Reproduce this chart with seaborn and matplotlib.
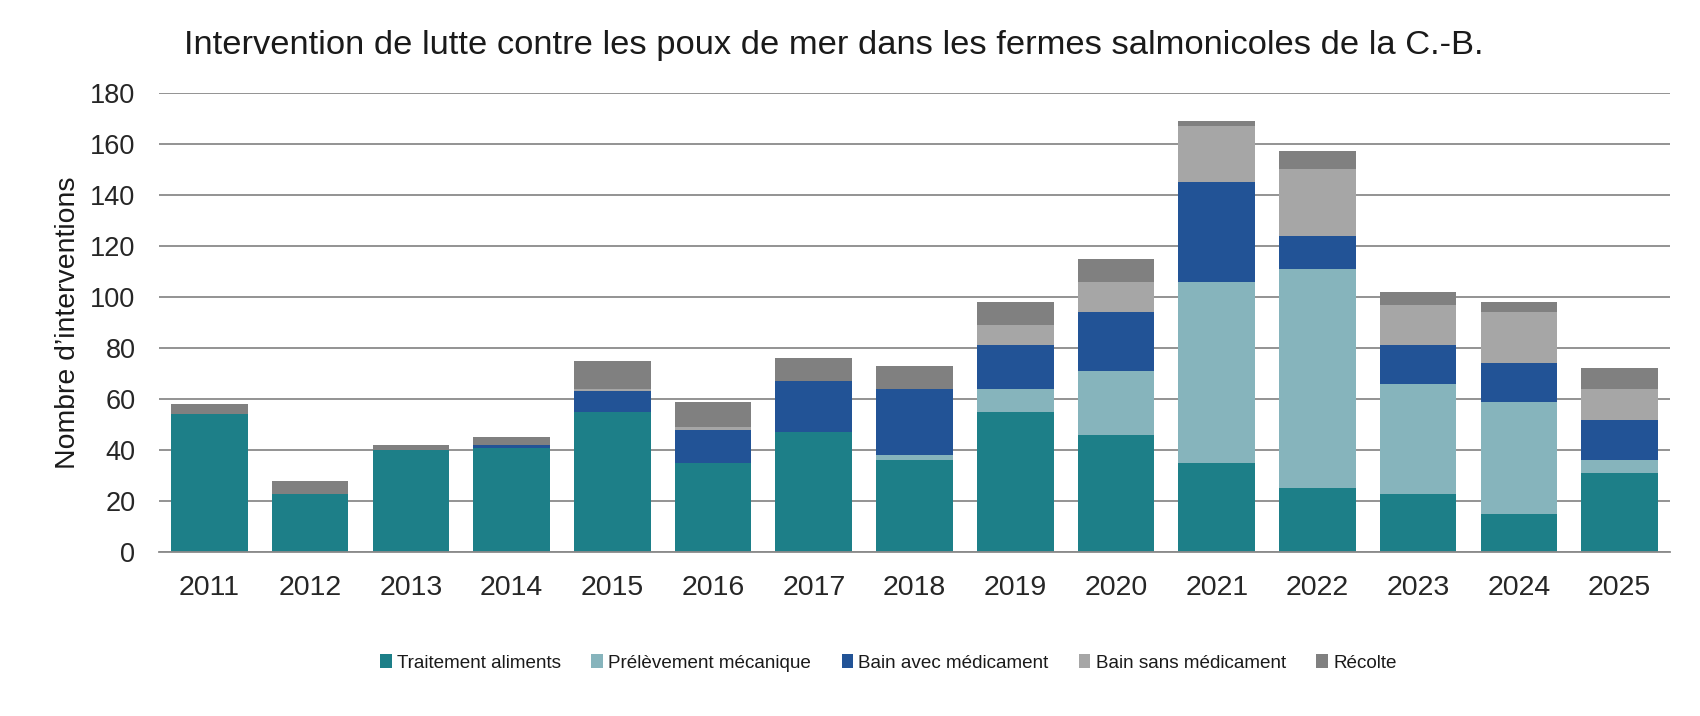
import numpy as np
import pandas as pd
import matplotlib
matplotlib.use("Agg")
import matplotlib.pyplot as plt
from matplotlib.patches import Patch
import seaborn as sns

years = ["2011", "2012", "2013", "2014", "2015", "2016", "2017", "2018",
         "2019", "2020", "2021", "2022", "2023", "2024", "2025"]
traitement = [54, 23, 40, 41, 55, 35, 47, 36, 55, 46, 35, 25, 23, 15, 31]
prelevement = [0, 0, 0, 0, 0, 0, 0, 2, 9, 25, 71, 86, 43, 44, 5]
bain_avec = [0, 0, 0, 1, 8, 13, 20, 26, 17, 23, 39, 13, 15, 15, 16]
bain_sans = [0, 0, 0, 0, 1, 1, 0, 0, 8, 12, 22, 26, 16, 20, 12]
recolte = [4, 5, 2, 3, 11, 10, 9, 9, 9, 9, 2, 7, 5, 4, 8]

series_names = ["Traitement aliments", "Prélèvement mécanique",
                "Bain avec médicament", "Bain sans médicament", "Récolte"]
series_vals = [traitement, prelevement, bain_avec, bain_sans, recolte]
colors = ["#1d7f88", "#86b4bc", "#225396", "#a6a6a6", "#808080"]

sns.set_theme(style="white")
plt.rcParams["font.family"] = ["Liberation Sans", "DejaVu Sans"]

W, H = 1700, 716
left, right, top, bottom = 159, 1670, 92.7, 552.3
fig = plt.figure(figsize=(17, 7.16), dpi=100)
ax = fig.add_axes([left / W, 1 - bottom / H, (right - left) / W, (bottom - top) / H])

cum = np.cumsum(np.array(series_vals, dtype=float), axis=0)
for i in range(len(series_names) - 1, -1, -1):
    df = pd.DataFrame({"year": years, "val": cum[i]})
    sns.barplot(data=df, x="year", y="val", color=colors[i], width=0.76,
                saturation=1, linewidth=0, ax=ax, zorder=2)

ax.set_ylim(0, 180)
ax.set_xlim(-0.5, len(years) - 0.5)
ax.set_yticks(np.arange(0, 181, 20))
ax.yaxis.grid(True, color="#8a8a8a", linewidth=1.3)
ax.xaxis.grid(False)
ax.set_axisbelow(True)
for s in ["top", "right", "left"]:
    ax.spines[s].set_visible(False)
ax.spines["bottom"].set_color("#8a8a8a")
ax.spines["bottom"].set_linewidth(1.3)
ax.tick_params(axis="both", length=0, colors="#262626")
ax.tick_params(axis="x", pad=16, labelsize=20.5)
ax.tick_params(axis="y", pad=17, labelsize=19.5)
ax.set_xlabel("")
ax.set_ylabel("Nombre d’interventions", fontsize=20.4, color="#1a1a1a")
ax.yaxis.set_label_coords((81 - left) / (right - left), (bottom - 323) / (bottom - top))

fig.text(184 / W, 1 - 54 / H,
         "Intervention de lutte contre les poux de mer dans les fermes salmonicoles de la C.-B.",
         fontsize=24.8, ha="left", va="baseline", color="#1a1a1a")

handles = [Patch(facecolor=c, edgecolor="none") for c in colors]
fig.legend(handles, series_names, loc="center", bbox_to_anchor=(888.5 / W, 1 - 663 / H),
           ncol=5, frameon=False, fontsize=13.6, handlelength=0.6, handleheight=0.7,
           handletextpad=0.3, columnspacing=1.6, labelcolor="#1a1a1a")

fig.savefig("out.png", dpi=100)
